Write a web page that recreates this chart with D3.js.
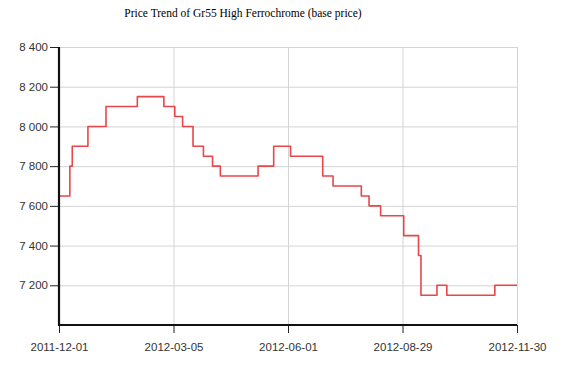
<!DOCTYPE html>
<html>
<head>
<meta charset="utf-8">
<script src="https://cdn.jsdelivr.net/npm/d3@7/dist/d3.min.js"></script>
<style>
  html, body { margin: 0; padding: 0; background: #fff; }
  svg { display: block; }
</style>
</head>
<body>
<svg id="chart" width="562" height="368"></svg>
<script>
// ---- data ----
const title = "Price Trend of Gr55 High Ferrochrome (base price)";
// price (CNY) effective from each date
const changeDates = [
  "2011-12-01", "2011-12-10", "2011-12-12", "2011-12-25", "2012-01-09",
  "2012-02-04", "2012-02-26", "2012-03-06", "2012-03-12", "2012-03-20",
  "2012-03-28", "2012-04-04", "2012-04-10", "2012-05-09", "2012-05-21",
  "2012-06-03", "2012-06-28", "2012-07-06", "2012-07-28", "2012-08-03",
  "2012-08-12", "2012-08-30", "2012-09-11", "2012-09-13", "2012-09-26",
  "2012-10-04", "2012-11-12", "2012-11-30"
];
const prices = [
  7650, 7800, 7900, 8000, 8100,
  8150, 8100, 8050, 8000, 7900,
  7850, 7800, 7750, 7800, 7900,
  7850, 7750, 7700, 7650, 7600,
  7550, 7450, 7350, 7150, 7200,
  7150, 7200, 7200
];
const xTickLabels = ["2011-12-01", "2012-03-05", "2012-06-01", "2012-08-29", "2012-11-30"];
const yTicks = [7200, 7400, 7600, 7800, 8000, 8200, 8400];
const yDomain = [7000, 8400];

// ---- layout ----
const svg = d3.select("#chart");
const mLeft = 59, mRight = 517, mTop = 47, mBottom = 325;

const parse = d3.timeParse("%Y-%m-%d");
const data = changeDates.map((d, i) => ({ date: parse(d), price: prices[i] }));
const tickDates = xTickLabels.map(parse);

// piecewise time scale: label dates are evenly spaced on the axis
const x = d3.scaleTime()
  .domain(tickDates)
  .range(tickDates.map((d, i) => mLeft + (mRight - mLeft) * i / (tickDates.length - 1)));
const y = d3.scaleLinear().domain(yDomain).range([mBottom, mTop]);

const fmt = v => d3.format(",")(v).replace(/,/g, " ");

// title
svg.append("text")
  .attr("x", 243).attr("y", 17)
  .attr("text-anchor", "middle")
  .attr("font-family", "'Liberation Serif', 'Times New Roman', serif")
  .attr("font-size", 11.5)
  .attr("fill", "#000")
  .text(title);

// grid
svg.append("g").selectAll("line").data(yTicks).join("line")
  .attr("x1", mLeft).attr("x2", mRight)
  .attr("y1", d => y(d) + 0.5).attr("y2", d => y(d) + 0.5)
  .attr("stroke", "#d4d4d4").attr("stroke-width", 1);
svg.append("g").selectAll("line").data(tickDates.slice(1)).join("line")
  .attr("x1", d => x(d) + 0.5).attr("x2", d => x(d) + 0.5)
  .attr("y1", mTop).attr("y2", mBottom)
  .attr("stroke", "#d4d4d4").attr("stroke-width", 1);

// line
const line = d3.line()
  .x(d => x(d.date))
  .y(d => y(d.price))
  .curve(d3.curveStepAfter);
svg.append("path")
  .datum(data)
  .attr("d", line)
  .attr("fill", "none")
  .attr("stroke", "#e8464a")
  .attr("stroke-width", 1.6)
  .attr("stroke-linejoin", "round");

// axes
const yAxis = d3.axisLeft(y).tickValues(yTicks).tickFormat(fmt).tickSize(9).tickPadding(2);
const gy = svg.append("g").attr("transform", `translate(${mLeft},0)`).call(yAxis);
const xAxis = d3.axisBottom(x).tickValues(tickDates).tickFormat((d, i) => xTickLabels[i]).tickSize(8).tickPadding(10);
const gx = svg.append("g").attr("transform", `translate(0,${mBottom})`).call(xAxis);

[gy, gx].forEach(g => {
  g.select(".domain").remove();
  g.selectAll(".tick line").attr("stroke", "#222").attr("stroke-width", 1);
  g.selectAll(".tick text")
    .attr("font-family", "'Liberation Sans', Arial, sans-serif")
    .attr("font-size", 11.5)
    .attr("fill", "#333");
});

// axis lines
svg.append("line")
  .attr("x1", mLeft).attr("x2", mLeft).attr("y1", mTop).attr("y2", mBottom + 1)
  .attr("stroke", "#111").attr("stroke-width", 2.2);
svg.append("line")
  .attr("x1", mLeft - 1).attr("x2", mRight).attr("y1", mBottom).attr("y2", mBottom)
  .attr("stroke", "#111").attr("stroke-width", 2.2);
</script>
</body>
</html>
